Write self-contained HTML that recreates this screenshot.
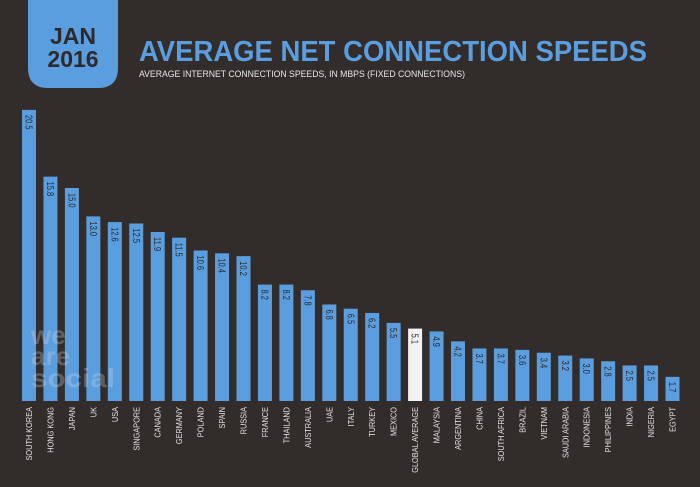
<!DOCTYPE html>
<html><head><meta charset="utf-8"><style>
body{margin:0;background:#322d2b;width:700px;height:482px;overflow:hidden;font-family:"Liberation Sans",sans-serif;}
</style></head><body>
<svg width="700" height="482">
<rect width="700" height="482" fill="#322d2b"/>
<path d="M28 0 H118 V68 Q118 88 98 88 H48 Q28 88 28 68 Z" fill="#5b9ee0"/>
<text x="73" y="44" text-anchor="middle" font-size="23" font-weight="bold" fill="#2e2a29">JAN</text>
<text x="73" y="67" text-anchor="middle" font-size="23" font-weight="bold" fill="#2e2a29">2016</text>
<text x="139" y="61" font-size="29" font-weight="bold" fill="#5b9ee0" textLength="508" lengthAdjust="spacingAndGlyphs">AVERAGE NET CONNECTION SPEEDS</text>
<text x="139" y="77" font-size="9" fill="#e6e6e6" textLength="326" lengthAdjust="spacingAndGlyphs">AVERAGE INTERNET CONNECTION SPEEDS, IN MBPS (FIXED CONNECTIONS)</text>
<g id="bars"></g>
<g opacity="0.28" fill="#dddddd" font-weight="bold" font-size="26">
<text x="31" y="344">we</text><text x="31" y="365">are</text><text x="31" y="387" textLength="84" lengthAdjust="spacingAndGlyphs">social</text>
</g>
</svg>
<script>
const categories=["SOUTH KOREA","HONG KONG","JAPAN","UK","USA","SINGAPORE","CANADA","GERMANY","POLAND","SPAIN","RUSSIA","FRANCE","THAILAND","AUSTRALIA","UAE","ITALY","TURKEY","MEXICO","GLOBAL AVERAGE","MALAYSIA","ARGENTINA","CHINA","SOUTH AFRICA","BRAZIL","VIETNAM","SAUDI ARABIA","INDONESIA","PHILIPPINES","INDIA","NIGERIA","EGYPT"];
const speeds=[20.5,15.8,15.0,13.0,12.6,12.5,11.9,11.5,10.6,10.4,10.2,8.2,8.2,7.8,6.8,6.5,6.2,5.5,5.1,4.9,4.2,3.7,3.7,3.6,3.4,3.2,3.0,2.8,2.5,2.5,1.7];
const highlight=["GLOBAL AVERAGE"];
const NS="http://www.w3.org/2000/svg";
const g=document.getElementById("bars");
const base=401, unit=14.2, x0=22, pitch=21.45, bw=14;
const xs=i=>x0+i*pitch;
const ys=v=>base-v*unit;
categories.forEach((c,i)=>{
  const v=speeds[i];
  const r=document.createElementNS(NS,"rect");
  r.setAttribute("x",xs(i));r.setAttribute("y",ys(v));r.setAttribute("width",bw);r.setAttribute("height",base-ys(v));
  r.setAttribute("fill",highlight.includes(c)?"#f2f2f2":"#5b9ee0");
  
  
  g.appendChild(r);
  const cx=xs(i)+bw/2;
  const t=document.createElementNS(NS,"text");
  const ty=ys(v)+5;
  t.setAttribute("transform","translate("+(cx-3.5)+","+ty+") rotate(90) scale(0.75,1)");
  t.setAttribute("font-size","10");t.setAttribute("fill","#2a2a2a");
  t.textContent=v.toFixed(1);
  
  
  g.appendChild(t);
  const l=document.createElementNS(NS,"text");
  l.setAttribute("transform","translate("+(cx+3)+",407) rotate(-90) scale(0.92,1)");
  l.setAttribute("font-size","8");l.setAttribute("fill","#e6e6e6");l.setAttribute("text-anchor","end");
  l.textContent=c;
  
  
  g.appendChild(l);
});
</script>
</body></html>
